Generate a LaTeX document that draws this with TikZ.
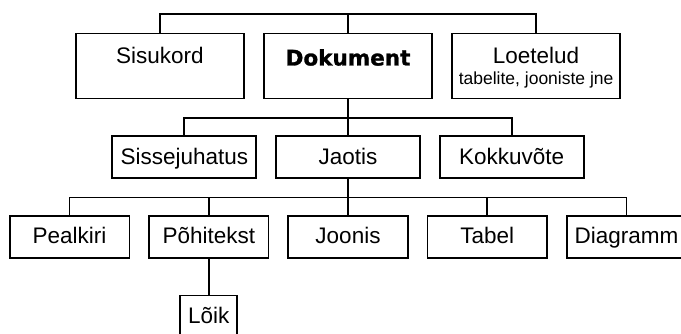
\documentclass[tikz,border=0pt]{standalone}
\usepackage{fontspec}
\setmainfont{Liberation Sans}
\newfontfamily\heavyfont{DejaVu Sans}[BoldFeatures={FakeBold=1.2}]
\usetikzlibrary{positioning}

\begin{document}
\begin{tikzpicture}[
    x=1pt, y=1pt,
    font=\fontsize{22.5}{27}\selectfont,
    topbox/.style={
        draw, line width=1.7pt, inner sep=0pt,
        minimum width=168pt, text height=30pt, text depth=35pt,
    },
    rowbox/.style={
        draw, line width=1.7pt, inner sep=0pt,
        minimum width=#1, text height=28pt, text depth=14pt,
    },
    rowbox/.default=144pt,
    link/.style={line width=1.7pt},
    fork/.style={to path={(\tikztostart) -- ++(0,-18.5) -| (\tikztotarget)}},
]
\useasboundingbox (0,-334) rectangle (681,0);

% ============================================================
% TOP ROW
% ============================================================
\node[topbox, text height=32pt, text depth=33pt,
    font=\heavyfont\bfseries\fontsize{21.5}{25}\selectfont] (dok) at (348,-66) {Dokument};

\node[topbox, left=18.4pt of dok] (sis) {Sisukord};

\node[topbox, right=18.4pt of dok] (loe) {%
    \parbox[t]{168pt}{\centering Loetelud\\
    \fontsize{17.5}{21}\selectfont tabelite, jooniste jne}%
};

\coordinate[above=18.5pt of dok.north] (root);

\draw[link] (root) -- (dok.north);
\draw[link] (sis.north) |- (root) -| (loe.north);

% ============================================================
% MIDDLE ROW
% ============================================================
\node[rowbox, below=36pt of dok] (jao) {Jaotis};
\node[rowbox, left=18pt of jao] (sej) {Sissejuhatus};
\node[rowbox, right=18pt of jao] (kok) {Kokkuvõte};

\draw[link] (dok.south) to[fork] (sej.north);
\draw[link] (dok.south) to[fork] (jao.north);
\draw[link] (dok.south) to[fork] (kok.north);

% ============================================================
% BOTTOM ROW
% ============================================================
\node[rowbox=119.5pt, below=36pt of jao] (joo) {Joonis};
\node[rowbox=119.5pt, left=18pt of joo] (pht) {Põhitekst};
\node[rowbox=119.5pt, left=18pt of pht] (pea) {Pealkiri};
\node[rowbox=119.5pt, right=18pt of joo] (tab) {Tabel};
\node[rowbox=119.5pt, right=18pt of tab] (dia) {Diagramm};

\draw[link] (jao.south) to[fork] (pea.north);
\draw[link] (jao.south) to[fork] (pht.north);
\draw[link] (jao.south) to[fork] (joo.north);
\draw[link] (jao.south) to[fork] (tab.north);
\draw[link] (jao.south) to[fork] (dia.north);

% paragraph under main text
\node[rowbox=57pt, below=36pt of pht] (loi) {Lõik};
\draw[link] (pht) -- (loi);

\end{tikzpicture}
\end{document}
